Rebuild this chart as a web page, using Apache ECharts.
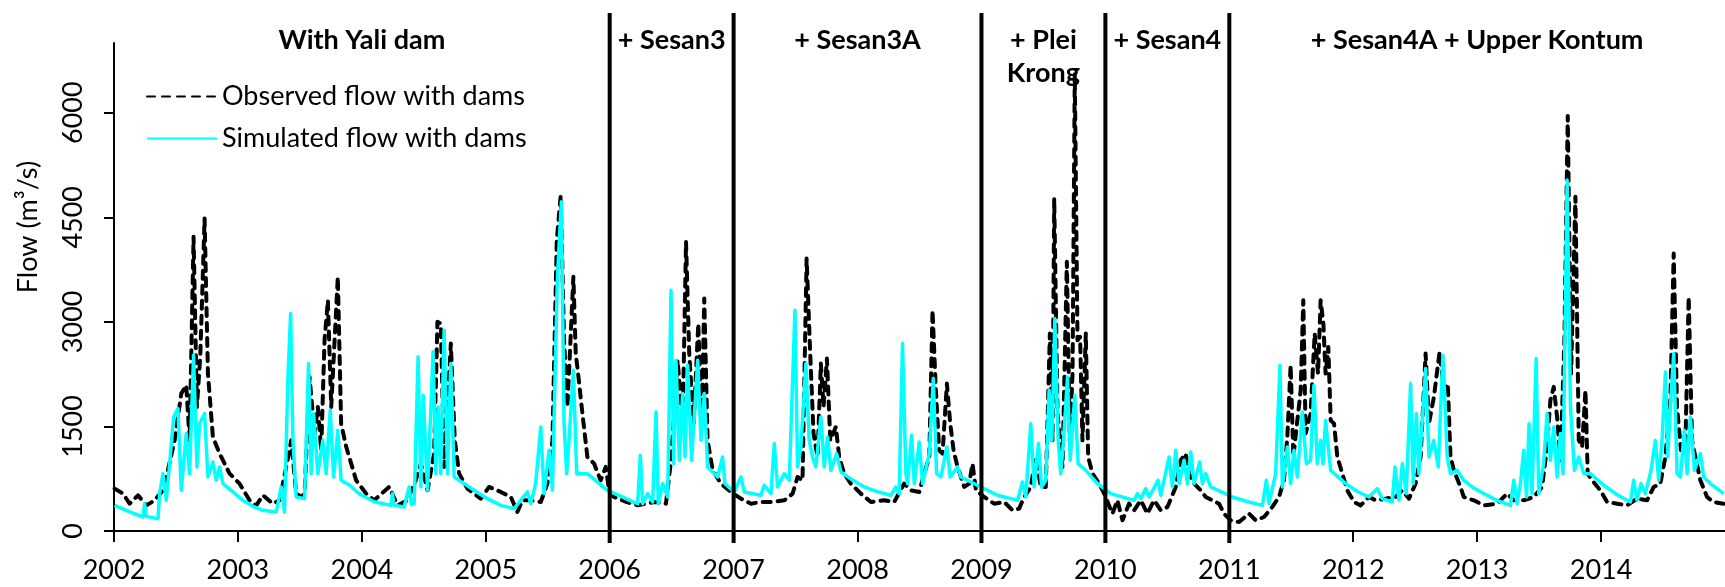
<!DOCTYPE html>
<html>
<head>
    <meta charset="utf-8">
    <title>Flow with dams</title>
    <script src="https://cdn.jsdelivr.net/npm/echarts@6/dist/echarts.min.js"></script>
    <style>
        html, body { margin: 0; padding: 0; background: #fff; }
        #chart { width: 1725px; height: 587px; }
    </style>
</head>
<body>
<div id="chart"></div>
<script>
    // observed flow (m3/s), [year, value]
    var obs2002 = [[2002.005,608],[2002.073,536],[2002.126,392],[2002.194,512],[2002.261,368],[2002.328,440],[2002.395,584],[2002.435,870],[2002.489,1300],[2002.543,1971],[2002.583,2091],[2002.610,1300],[2002.642,4220],[2002.669,1780],[2002.696,2498],[2002.731,4484],[2002.758,2258],[2002.798,1350],[2002.852,1110],[2002.933,823],[2003.013,680],[2003.094,440],[2003.148,368],[2003.202,512],[2003.282,392],[2003.336,440],[2003.390,919],[2003.430,1300],[2003.470,536],[2003.511,488],[2003.538,536],[2003.578,2210],[2003.618,1397],[2003.645,1780],[2003.672,1158],[2003.699,2737],[2003.726,3311],[2003.753,1780],[2003.806,3646],[2003.833,1540],[2003.874,1206],[2003.954,727],[2004.035,536]];
    var obs2004 = [[2004.099,440],[2004.220,632],[2004.288,368],[2004.368,440],[2004.435,727],[2004.476,967],[2004.530,584],[2004.583,1110],[2004.610,3000],[2004.637,2976],[2004.664,919],[2004.691,1780],[2004.718,2689],[2004.750,1300],[2004.785,823],[2004.852,608],[2004.960,464],[2005.027,632],[2005.121,560],[2005.202,488],[2005.255,273],[2005.296,440],[2005.363,440],[2005.444,416],[2005.497,680],[2005.538,1300],[2005.573,4172],[2005.605,4818],[2005.632,2737],[2005.659,1780],[2005.707,3646],[2005.726,2546],[2005.745,2258],[2005.780,1684],[2005.820,1062],[2005.874,967],[2005.927,727],[2005.968,919],[2005.995,584]];
    var obs2006 = [[2006.035,488],[2006.130,420],[2006.226,368],[2006.360,416],[2006.454,392],[2006.495,1014],[2006.548,2450],[2006.589,1540],[2006.616,4148],[2006.642,2546],[2006.677,1540],[2006.715,2976],[2006.742,1493],[2006.763,3335],[2006.790,1300],[2006.831,870],[2006.898,680],[2006.978,560],[2007.059,464],[2007.140,392],[2007.220,416],[2007.301,416],[2007.409,440],[2007.476,536],[2007.516,775],[2007.556,727],[2007.589,3909],[2007.618,2546],[2007.645,1397],[2007.677,1062],[2007.704,2402],[2007.726,1780],[2007.753,2474],[2007.780,1300],[2007.825,1493],[2007.852,1062],[2007.892,823],[2007.946,680],[2008.027,536],[2008.108,416],[2008.215,440],[2008.296,416],[2008.376,680]];
    var obs2008 = [[2008.431,584],[2008.498,560],[2008.538,823],[2008.579,1062],[2008.605,3168],[2008.632,2019],[2008.659,1158],[2008.686,1110],[2008.721,2115],[2008.748,1540],[2008.775,1158],[2008.807,919],[2008.861,632],[2008.901,680],[2008.928,967],[2008.955,584],[2009.022,488],[2009.103,392],[2009.183,416],[2009.251,297],[2009.304,321],[2009.345,488],[2009.398,632],[2009.439,1062],[2009.479,632],[2009.519,632],[2009.552,2833],[2009.573,1300],[2009.587,4771],[2009.614,1684],[2009.654,919],[2009.689,3861],[2009.713,1300],[2009.735,2258],[2009.753,6550],[2009.775,2737],[2009.796,2785],[2009.815,1300],[2009.842,2833],[2009.861,1062],[2009.896,823],[2009.950,680],[2009.990,536],[2010.057,249],[2010.097,440],[2010.138,153],[2010.191,392],[2010.232,297],[2010.286,440],[2010.339,249],[2010.393,440],[2010.447,297],[2010.501,345]];
    var obs2010 = [[2010.568,632],[2010.608,1014],[2010.648,1110],[2010.675,823],[2010.716,680],[2010.769,584],[2010.810,488],[2010.863,440],[2010.917,392],[2010.958,249],[2011.011,153],[2011.079,129],[2011.159,249],[2011.213,153],[2011.280,201],[2011.347,345],[2011.401,488],[2011.441,727],[2011.468,1350],[2011.495,2378],[2011.517,1062],[2011.549,1588],[2011.576,2019],[2011.597,3311],[2011.616,1397],[2011.656,1684],[2011.689,2833],[2011.716,2258],[2011.737,3311],[2011.759,2976],[2011.777,2258],[2011.799,2641],[2011.818,1588],[2011.845,1540],[2011.872,1062],[2011.912,823],[2011.952,584],[2012.006,416],[2012.060,368],[2012.127,488],[2012.181,440],[2012.261,464],[2012.342,488],[2012.396,584],[2012.450,464],[2012.503,680],[2012.544,1062],[2012.584,2546],[2012.611,1540],[2012.651,1924],[2012.697,2570],[2012.732,2019]];
    var obs2012 = [[2012.763,2115],[2012.785,1062],[2012.812,870],[2012.865,632],[2012.892,488],[2012.973,440],[2013.054,368],[2013.161,392],[2013.242,536],[2013.296,440],[2013.376,440],[2013.457,488],[2013.524,632],[2013.564,1206],[2013.591,1876],[2013.618,2067],[2013.645,1636],[2013.672,1014],[2013.704,2737],[2013.731,5953],[2013.758,2258],[2013.793,4795],[2013.820,1300],[2013.847,1206],[2013.874,2019],[2013.892,823],[2013.927,727],[2013.994,584],[2014.048,416],[2014.129,392],[2014.210,368],[2014.290,464],[2014.371,440],[2014.425,632],[2014.478,680],[2014.519,1062],[2014.559,1876],[2014.586,3981],[2014.613,1780],[2014.645,1158],[2014.680,1206],[2014.707,3359],[2014.734,1300],[2014.761,1062],[2014.801,727],[2014.855,488],[2014.908,416],[2014.989,392]];

    // simulated flow (m3/s)
    var sim2002 = [[2002.005,368],[2002.126,273],[2002.234,201],[2002.247,392],[2002.261,210],[2002.355,177],[2002.368,536],[2002.395,823],[2002.422,440],[2002.449,967],[2002.481,1636],[2002.516,1756],[2002.543,584],[2002.583,1397],[2002.610,823],[2002.642,2522],[2002.669,919],[2002.691,1540],[2002.731,1684],[2002.758,775],[2002.798,990],[2002.825,727],[2002.852,919],[2002.879,680],[2002.960,560],[2003.040,440],[2003.121,354],[2003.202,297],[2003.309,273],[2003.349,632],[2003.376,273],[2003.403,2163],[2003.425,3120],[2003.444,1300],[2003.470,488],[2003.538,464],[2003.570,2402],[2003.591,823],[2003.610,1684],[2003.645,823],[2003.685,1300],[2003.712,823],[2003.745,1732],[2003.772,775],[2003.806,1445],[2003.833,727],[2003.901,656],[2003.980,530]];
    var sim2004 = [[2004.099,420],[2004.234,368],[2004.247,536],[2004.260,370],[2004.341,345],[2004.382,632],[2004.400,380],[2004.422,392],[2004.454,2498],[2004.476,632],[2004.495,1947],[2004.530,584],[2004.575,2570],[2004.597,823],[2004.616,1780],[2004.637,823],[2004.664,2881],[2004.691,823],[2004.718,2402],[2004.745,775],[2004.825,680],[2004.906,584],[2005.013,464],[2005.121,368],[2005.228,321],[2005.282,440],[2005.336,560],[2005.363,392],[2005.403,680],[2005.444,1493],[2005.470,536],[2005.511,1158],[2005.538,584],[2005.578,3646],[2005.610,4723],[2005.632,1540],[2005.653,823],[2005.672,1300],[2005.707,2306],[2005.734,823],[2005.820,823],[2005.981,584]];
    var sim2006 = [[2006.089,500],[2006.196,410],[2006.226,392],[2006.247,1086],[2006.266,392],[2006.306,536],[2006.347,416],[2006.374,1708],[2006.392,392],[2006.427,680],[2006.468,488],[2006.495,3455],[2006.516,967],[2006.535,2450],[2006.562,1014],[2006.589,1971],[2006.608,1062],[2006.629,2378],[2006.661,1014],[2006.710,2450],[2006.737,1300],[2006.763,1971],[2006.790,919],[2006.871,775],[2006.911,1062],[2006.930,680],[2007.005,560],[2007.059,775],[2007.086,560],[2007.220,512],[2007.247,656],[2007.301,536],[2007.328,1254],[2007.355,632],[2007.409,823],[2007.449,727],[2007.495,3168],[2007.516,919],[2007.543,1206],[2007.583,2402],[2007.610,1300],[2007.637,1062],[2007.664,919],[2007.704,1636],[2007.731,919],[2007.758,1350],[2007.785,870],[2007.831,1110],[2007.866,847],[2007.960,730],[2008.054,632],[2008.160,565],[2008.269,512],[2008.309,632],[2008.336,536],[2008.363,2689],[2008.390,823]];
    var sim2008 = [[2008.404,680],[2008.436,1373],[2008.458,680],[2008.498,1278],[2008.525,680],[2008.579,1110],[2008.611,2187],[2008.638,823],[2008.673,775],[2008.721,1206],[2008.748,775],[2008.807,919],[2008.834,775],[2008.995,632],[2009.130,512],[2009.291,440],[2009.331,703],[2009.358,488],[2009.398,1540],[2009.425,632],[2009.460,1254],[2009.485,632],[2009.519,727],[2009.546,2019],[2009.568,1300],[2009.592,3048],[2009.619,1300],[2009.640,823],[2009.662,1300],[2009.694,2210],[2009.716,1014],[2009.753,1947],[2009.780,967],[2009.842,870],[2009.936,680],[2010.044,536],[2010.232,440],[2010.259,536],[2010.286,464],[2010.326,608],[2010.353,488],[2010.425,727],[2010.447,512],[2010.514,1062],[2010.541,632]];
    var sim2010 = [[2010.568,1158],[2010.595,680],[2010.635,1014],[2010.662,680],[2010.689,1134],[2010.716,680],[2010.761,990],[2010.783,680],[2010.810,823],[2010.850,632],[2011.025,488],[2011.150,420],[2011.267,368],[2011.299,727],[2011.320,392],[2011.374,823],[2011.409,2378],[2011.428,632],[2011.468,1206],[2011.495,680],[2011.522,1158],[2011.549,775],[2011.589,1708],[2011.622,967],[2011.656,1014],[2011.683,2091],[2011.710,967],[2011.737,1300],[2011.756,967],[2011.777,1588],[2011.818,870],[2011.939,680],[2012.030,570],[2012.127,488],[2012.194,608],[2012.234,464],[2012.315,416],[2012.337,919],[2012.369,440],[2012.396,967],[2012.428,536],[2012.463,2115],[2012.484,680],[2012.509,1684],[2012.530,823],[2012.584,2330],[2012.611,1062],[2012.651,1300],[2012.686,919],[2012.724,2522]];
    var sim2012 = [[2012.758,1062],[2012.785,823],[2012.839,870],[2012.892,727],[2012.970,620],[2013.054,536],[2013.160,440],[2013.269,368],[2013.296,727],[2013.323,392],[2013.349,680],[2013.376,1158],[2013.398,488],[2013.419,1540],[2013.443,536],[2013.476,2474],[2013.497,536],[2013.537,967],[2013.564,1684],[2013.591,1014],[2013.618,1493],[2013.645,775],[2013.672,1397],[2013.693,823],[2013.726,5034],[2013.753,1780],[2013.785,870],[2013.820,1062],[2013.860,823],[2013.914,823],[2014.021,656],[2014.130,520],[2014.237,416],[2014.263,727],[2014.290,440],[2014.322,680],[2014.357,536],[2014.403,870],[2014.438,1300],[2014.465,727],[2014.492,1300],[2014.519,2282],[2014.538,1062],[2014.559,1780],[2014.586,2546],[2014.613,823],[2014.640,775],[2014.672,1445],[2014.694,823],[2014.720,1636],[2014.753,870],[2014.801,1110],[2014.828,775],[2014.882,680],[2014.989,536]];

    var yearTicks = [2002, 2003, 2004, 2005, 2006, 2007, 2008, 2009, 2010, 2011, 2012, 2013, 2014];
    var flowTicks = [0, 1500, 3000, 4500, 6000];
    // dam periods: boundaries and their titles
    var periodBounds = [2002, 2006, 2007, 2009, 2010, 2011, 2015];
    var periodLabels = ['With Yali dam', '+ Sesan3', '+ Sesan3A', '+ Plei\nKrong', '+ Sesan4', '+ Sesan4A + Upper Kontum'];

    var observed = [].concat(obs2002, obs2004, obs2006, obs2008, obs2010, obs2012);
    var simulated = [].concat(sim2002, sim2004, sim2006, sim2008, sim2010, sim2012);
    var dividers = periodBounds.slice(1, -1).map(function (b) { return [b, 0]; });
    var titles = periodLabels.map(function (t, i) {
        return [(periodBounds[i] + periodBounds[i + 1]) / 2, i];
    });

    var font = 'Lato, "Open Sans", sans-serif';
    var chart = echarts.init(document.getElementById('chart'));

    chart.setOption({
        animation: false,
        grid: { left: 114, right: 0, top: 43, bottom: 56 },
        legend: {
            data: ['Observed flow with dams', 'Simulated flow with dams'],
            orient: 'vertical',
            left: 146,
            top: 83,
            padding: 0,
            itemGap: 15,
            itemWidth: 70,
            itemHeight: 14,
            itemStyle: { color: 'rgba(0,0,0,0)', borderWidth: 0 },
            textStyle: { fontFamily: font, fontSize: 27, color: '#000' }
        },
        xAxis: {
            type: 'value',
            min: 2002,
            max: 2015,
            interval: 1,
            splitLine: { show: false },
            axisLine: { lineStyle: { color: '#000', width: 2 } },
            axisTick: { length: 11, lineStyle: { color: '#000', width: 2 }, customValues: yearTicks },
            axisLabel: {
                customValues: yearTicks,
                formatter: function (v) { return String(v); },
                margin: 26,
                fontFamily: font,
                fontSize: 27,
                color: '#000'
            }
        },
        yAxis: {
            type: 'value',
            min: 0,
            max: 7000,
            interval: 1500,
            splitLine: { show: false },
            name: 'Flow (m³/s)',
            nameLocation: 'middle',
            nameRotate: 90,
            nameGap: 72,
            nameTextStyle: { fontFamily: font, fontSize: 27, color: '#000', padding: [0, 0, 0, 120] },
            axisLine: { show: true, lineStyle: { color: '#000', width: 2 } },
            axisTick: { show: true, length: 10, lineStyle: { color: '#000', width: 2 }, customValues: flowTicks },
            axisLabel: {
                rotate: 90,
                margin: 27,
                formatter: function (v) { return flowTicks.indexOf(v) >= 0 ? String(v) : ''; },
                fontFamily: font,
                fontSize: 27,
                color: '#000'
            }
        },
        series: [
            {
                name: 'Observed flow with dams',
                type: 'line',
                data: observed,
                symbol: 'none',
                z: 2,
                itemStyle: { color: '#000' },
                lineStyle: { color: '#000', width: 4, type: [8, 7], cap: 'round', join: 'round' }
            },
            {
                name: 'Simulated flow with dams',
                type: 'line',
                data: simulated,
                symbol: 'none',
                z: 3,
                itemStyle: { color: '#00ffff' },
                lineStyle: { color: '#00ffff', width: 3.5, join: 'round' }
            },
            {
                // vertical lines where a new dam comes in
                type: 'custom',
                data: dividers,
                clip: false,
                silent: true,
                z: 4,
                renderItem: function (params, api) {
                    var p = api.coord([api.value(0), 0]);
                    var cs = params.coordSys;
                    return {
                        type: 'line',
                        shape: { x1: p[0], y1: cs.y - 30, x2: p[0], y2: cs.y + cs.height + 12 },
                        style: { stroke: '#000', lineWidth: 4 }
                    };
                }
            },
            {
                // period titles
                type: 'custom',
                data: titles,
                clip: false,
                silent: true,
                z: 5,
                renderItem: function (params, api) {
                    var p = api.coord([api.value(0), 0]);
                    var cs = params.coordSys;
                    return {
                        type: 'text',
                        x: p[0],
                        y: cs.y - 19,
                        style: {
                            text: periodLabels[api.value(1)],
                            fill: '#000',
                            fontFamily: font,
                            fontSize: 27,
                            fontWeight: 'bold',
                            lineHeight: 33,
                            align: 'center',
                            verticalAlign: 'top'
                        }
                    };
                }
            }
        ]
    });

    window.onresize = function () {
        chart.resize();
    };
</script>
</body>
</html>
